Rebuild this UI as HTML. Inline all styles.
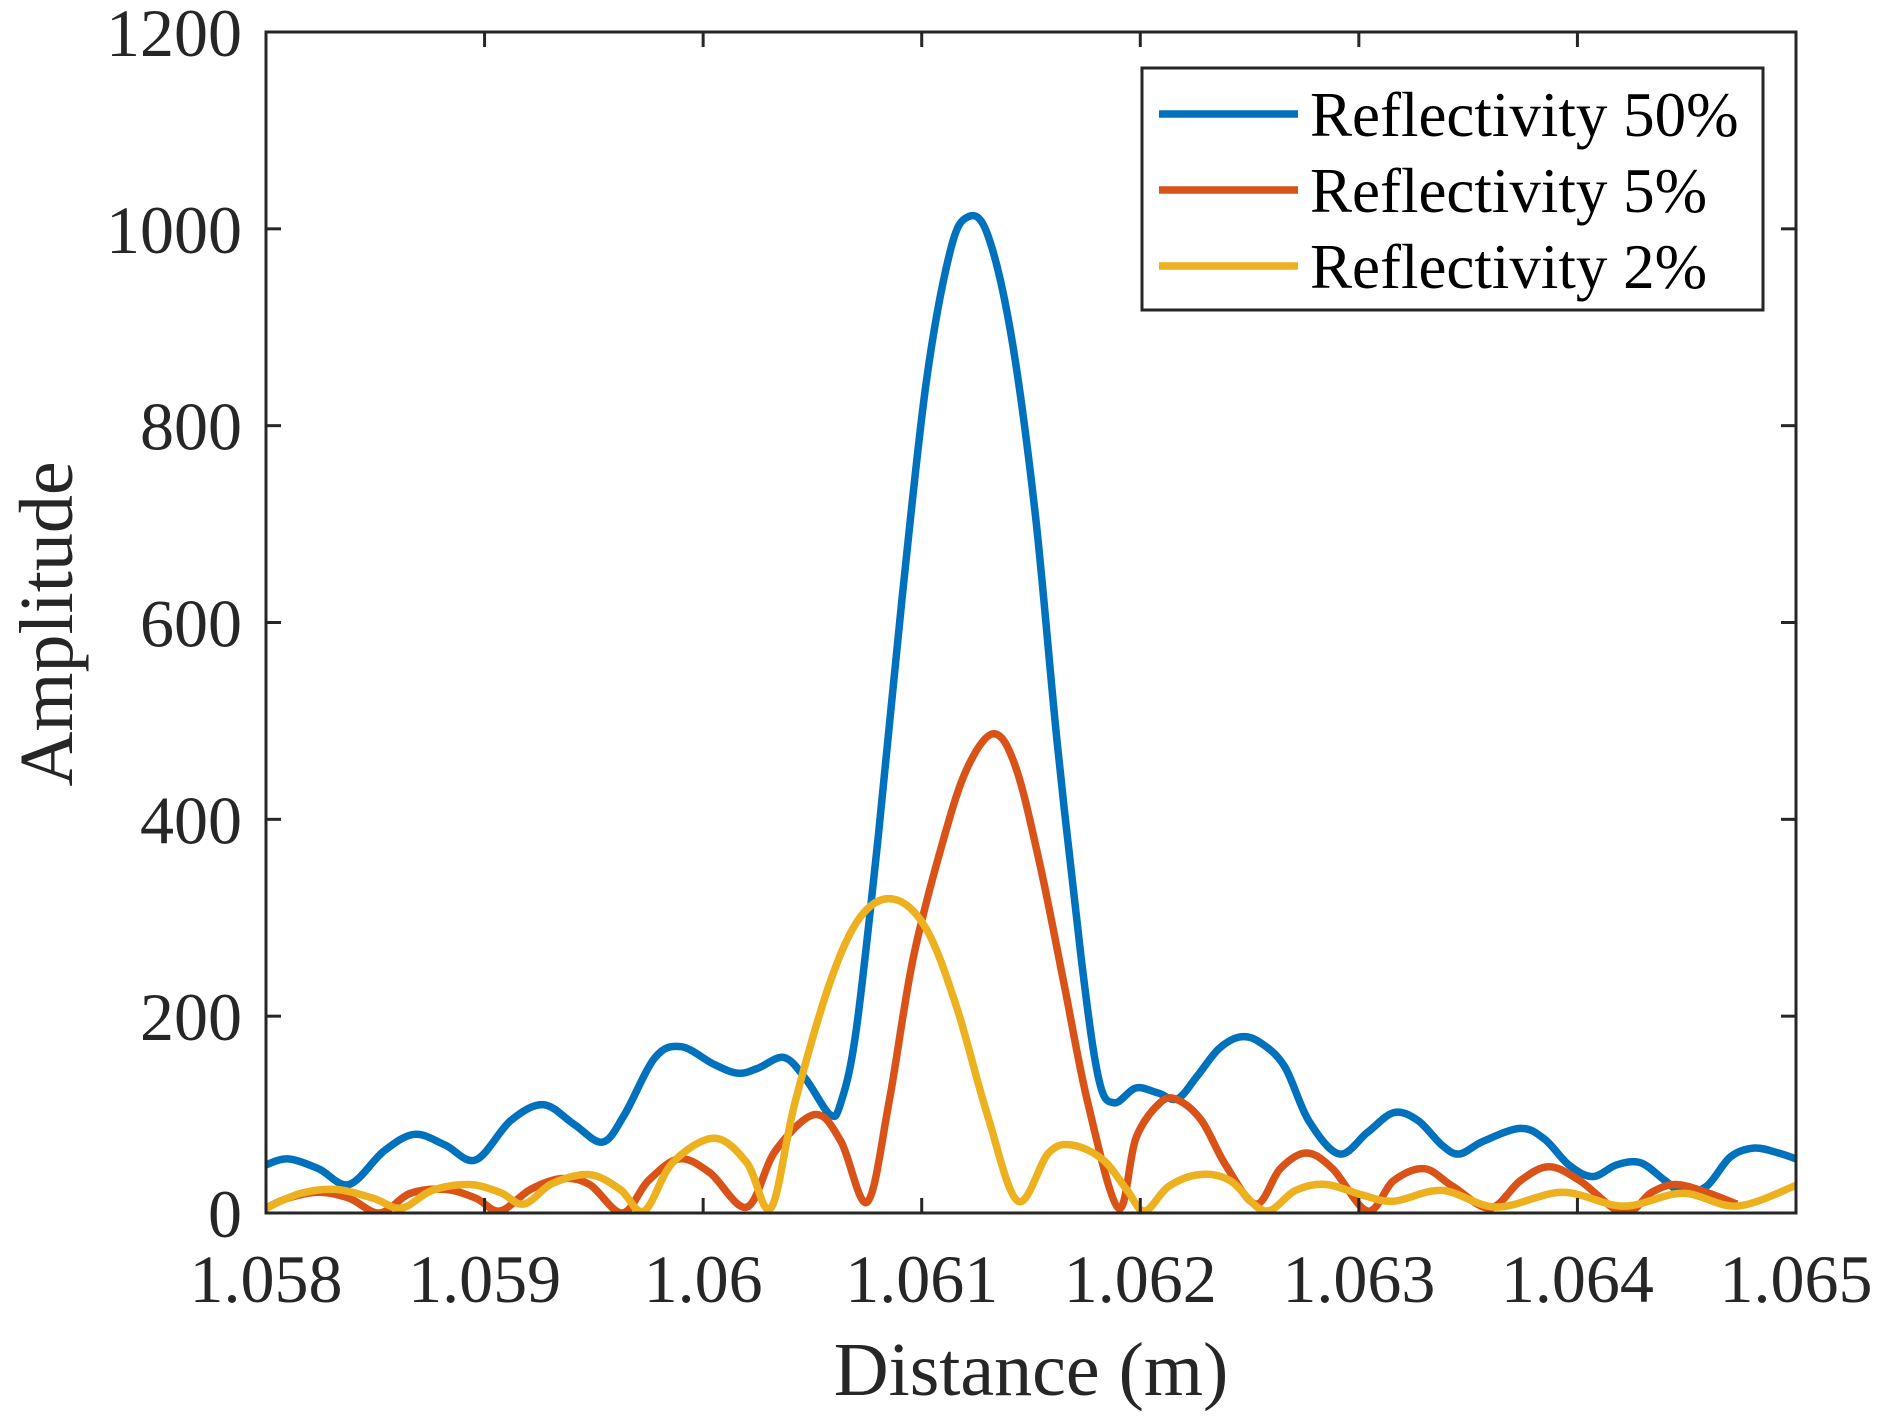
<!DOCTYPE html>
<html><head><meta charset="utf-8"><style>
html,body{margin:0;padding:0;background:#fff;}
svg{display:block;font-family:"Liberation Serif",serif;}
</style></head><body>
<svg id="chart" width="1884" height="1426" viewBox="0 0 1884 1426" xmlns="http://www.w3.org/2000/svg">
<rect x="0" y="0" width="1884" height="1426" fill="#fff"/>
<g id="plot"></g>
</svg>
<script>
const xTicks=[1.058,1.059,1.06,1.061,1.062,1.063,1.064,1.065];
const xTickLabels=["1.058","1.059","1.06","1.061","1.062","1.063","1.064","1.065"];
const yTicks=[0,200,400,600,800,1000,1200];
const yTickLabels=["0","200","400","600","800","1000","1200"];
const seriesNames=["Reflectivity 50%","Reflectivity 5%","Reflectivity 2%"];
const blueX=[1.058,1.0581,1.05824,1.05838,1.05854,1.05868,1.05882,1.05896,1.05912,1.05927,1.05941,1.05954,1.05964,1.05978,1.0599,1.06005,1.06016,1.06025,1.06037,1.06047,1.06058,1.06063,1.0607,1.0608,1.06091,1.06102,1.06113,1.06121,1.0613,1.06141,1.06152,1.06162,1.06173,1.06181,1.06188,1.06198,1.06208,1.06217,1.06226,1.06236,1.06246,1.06255,1.06266,1.06277,1.06291,1.06304,1.06316,1.06327,1.06338,1.06346,1.06357,1.06374,1.06385,1.06396,1.06407,1.06418,1.06429,1.0644,1.06448,1.06459,1.0647,1.06481,1.06492,1.065];
const blueY=[49,55,45,29,63,80,69,54,94,110,90,72,100,158,169,151,142,147,158,136,100,112,185,380,624,843,977,1012,995,891,709,478,258,136,112,127,122,116,139,167,179,173,149,94,60,82,102,94,69,60,73,86,75,49,37,49,51,33,21,27,57,66,61,55];
const redX=[1.058,1.0581,1.05824,1.05838,1.05852,1.05866,1.05882,1.05896,1.05907,1.05921,1.05935,1.05948,1.05963,1.05975,1.05989,1.06003,1.0602,1.06033,1.06051,1.06063,1.06075,1.06085,1.06096,1.0611,1.06121,1.06133,1.06143,1.06154,1.06165,1.06176,1.0619,1.06198,1.06209,1.06217,1.06228,1.06239,1.06253,1.06264,1.06276,1.06288,1.06304,1.06316,1.0633,1.06343,1.0636,1.06374,1.06387,1.06401,1.06421,1.06434,1.06445,1.06459,1.06473];
const redY=[5,15,21,15,0,20,24,15,2,24,35,29,0,33,55,41,6,63,100,73,11,112,258,380,453,487,453,355,234,112,5,76,112,115,94,49,9,45,61,45,2,33,45,27,5,33,47,33,0,21,29,21,9];
const yellowX=[1.058,1.05816,1.05832,1.05849,1.05862,1.05876,1.05893,1.05907,1.05918,1.05931,1.05948,1.05962,1.05973,1.05986,1.06005,1.0602,1.06031,1.06042,1.06058,1.06072,1.06087,1.06102,1.06116,1.0613,1.06144,1.06158,1.06169,1.06183,1.06194,1.06202,1.06213,1.06227,1.06241,1.06257,1.06271,1.06285,1.06302,1.06316,1.06338,1.06363,1.06393,1.06421,1.06448,1.06473,1.065];
const yellowY=[5,20,24,15,5,23,29,21,9,30,39,24,2,51,76,51,5,112,234,301,319,289,209,100,12,61,69,54,23,2,27,39,33,2,23,29,18,12,23,6,21,7,20,7,28];

const L=266,R=1796,T=32,B=1213;
const xMin=1.058,xMax=1.065,yMin=0,yMax=1200;
function sx(v){return L+(v-xMin)/(xMax-xMin)*(R-L);}
function sy(v){return B-(v-yMin)/(yMax-yMin)*(B-T);}
const NS="http://www.w3.org/2000/svg";
const g=document.getElementById('plot');
function mk(tag,attrs){const e=document.createElementNS(NS,tag);for(const k in attrs)e.setAttribute(k,attrs[k]);return e;}
function pathFor(xs,ys){
  const p=xs.map((x,i)=>[sx(x),sy(ys[i])]);
  let d="M"+p[0][0].toFixed(1)+","+p[0][1].toFixed(1);
  for(let i=0;i<p.length-1;i++){
    const p0=p[Math.max(0,i-1)],p1=p[i],p2=p[i+1],p3=p[Math.min(p.length-1,i+2)];
    const c1=[p1[0]+(p2[0]-p0[0])/6,p1[1]+(p2[1]-p0[1])/6];
    const c2=[p2[0]-(p3[0]-p1[0])/6,p2[1]-(p3[1]-p1[1])/6];
    d+=" C"+c1[0].toFixed(1)+","+c1[1].toFixed(1)+" "+c2[0].toFixed(1)+","+c2[1].toFixed(1)+" "+p2[0].toFixed(1)+","+p2[1].toFixed(1);
  }
  return d;
}
const series=[[blueX,blueY,"#0072BD","line-reflectivity-50"],[redX,redY,"#D95319","line-reflectivity-5"],[yellowX,yellowY,"#EDB120","line-reflectivity-2"]];
const clip=mk('clipPath',{id:'clipA'});clip.appendChild(mk('rect',{x:L,y:T,width:R-L,height:B-T}));g.appendChild(clip);
series.forEach(s=>{
  const el=mk('path',{d:pathFor(s[0],s[1]),fill:'none',stroke:s[2],'stroke-width':7.5,'stroke-linejoin':'round','clip-path':'url(#clipA)'});
  
  
  g.appendChild(el);
});
const box=mk('rect',{x:L,y:T,width:R-L,height:B-T,fill:'none',stroke:'#262626','stroke-width':3});


g.appendChild(box);
xTicks.forEach((v,i)=>{
  const x=sx(v);
  g.appendChild(mk('line',{x1:x,y1:B,x2:x,y2:B-15,stroke:'#262626','stroke-width':3}));
  g.appendChild(mk('line',{x1:x,y1:T,x2:x,y2:T+15,stroke:'#262626','stroke-width':3}));
  const t=mk('text',{x:x,y:1302,'font-size':68,'text-anchor':'middle',fill:'#262626'});
  t.textContent=xTickLabels[i];
  
  
  g.appendChild(t);
});
yTicks.forEach((v,i)=>{
  const y=sy(v);
  g.appendChild(mk('line',{x1:L,y1:y,x2:L+15,y2:y,stroke:'#262626','stroke-width':3}));
  g.appendChild(mk('line',{x1:R,y1:y,x2:R-15,y2:y,stroke:'#262626','stroke-width':3}));
  const t=mk('text',{x:242,y:y+24,'font-size':68,'text-anchor':'end',fill:'#262626'});
  t.textContent=yTickLabels[i];
  
  
  g.appendChild(t);
});
const xt=mk('text',{x:1031,y:1395,'font-size':76,'text-anchor':'middle',fill:'#262626'});
xt.textContent="Distance (m)";


g.appendChild(xt);
const yt=mk('text',{x:0,y:0,'font-size':76,'text-anchor':'middle',fill:'#262626',transform:'translate(72,624) rotate(-90)'});
yt.textContent="Amplitude";


g.appendChild(yt);
const lg=mk('g',{});


lg.appendChild(mk('rect',{x:1142,y:68,width:621,height:242,fill:'#fff',stroke:'#262626','stroke-width':3}));
const rows=[114,190,266];
series.forEach((s,i)=>{
  const ln=mk('line',{x1:1159,y1:rows[i],x2:1298,y2:rows[i],stroke:s[2],'stroke-width':7.5});
  
  
  lg.appendChild(ln);
  const t=mk('text',{x:1310,y:rows[i]+22,'font-size':63,fill:'#000'});
  t.textContent=seriesNames[i];
  
  
  lg.appendChild(t);
});
g.appendChild(lg);
</script>
</body></html>
